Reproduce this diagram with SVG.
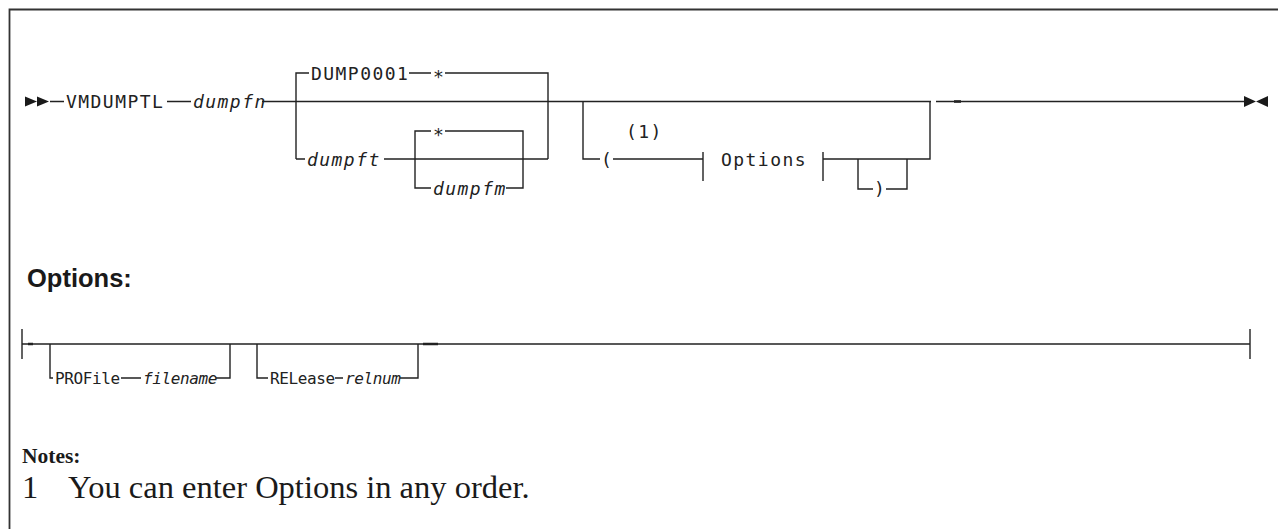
<svg xmlns="http://www.w3.org/2000/svg" width="1278" height="529" viewBox="0 0 1278 529">
<style>
.ln{fill:none;stroke:#222;stroke-width:1.4}
.thk{fill:none;stroke:#222;stroke-width:2.6}
.fr{fill:none;stroke:#333;stroke-width:1.8}
.m{font-family:"DejaVu Sans Mono","Liberation Mono",monospace;font-size:18px;letter-spacing:1.45px;fill:#222}
.s{font-family:"DejaVu Sans Mono","Liberation Mono",monospace;font-size:16px;letter-spacing:-0.4px;fill:#222}
.i{font-style:italic}
.ah{fill:#1a1a1a}
.h{font-family:"Liberation Sans",Arial,sans-serif;font-weight:bold;font-size:25.5px;fill:#1a1a1a}
.n{font-family:"Liberation Serif","Times New Roman",serif;fill:#1a1a1a}
</style>
<rect width="1278" height="529" fill="#fff"/>
<path class="fr" d="M9.5,529 V9.5 H1278"/>

<g id="connectors">
  <path class="ln" d="M50,101.5 H64 M167,101.5 H191 M262,101.5 H931 M936,101.5 H1245"/>
  <path class="thk" d="M954,101.5 H961"/>
  <path class="ln" d="M296,159 V73 H309 M409,73 H431 M445,73 H548 V159"/>
  <path class="ln" d="M296,159 H305 M384,159 H548"/>
  <path class="ln" d="M415,159 V131 H431 M445,131 H523 V188 H506 M431,188 H415 V159"/>
  <path class="ln" d="M583,101.5 V159 H600 M613,159 H703 M703,152 V181 M823,152 V181 M823,159 H930 V101.5"/>
  <path class="ln" d="M858,159 V189 H873 M886,189 H907 V159"/>
  <path class="ln" d="M22,329 V359 M22,344 H1250 M1250,329 V359"/>
  <path class="thk" d="M28,344 H33 M423,344 H438"/>
  <path class="ln" d="M50,344 V378 H53 M121,378 H141 M216,378 H230 V344"/>
  <path class="ln" d="M257,344 V378 H268 M335,378 H343 M400,378 H418 V344"/>
</g>

<g id="start"><path class="ah" d="M25,96.5 L25,106.5 L37,101.5 Z M37,96.5 L37,106.5 L49,101.5 Z"/></g>
<g id="end"><path class="ah" d="M1244,96 L1244,107 L1256,101.5 Z M1268,96 L1268,107 L1256,101.5 Z"/></g>

<g id="vmdumptl"><text class="m" x="66" y="108">VMDUMPTL</text></g>
<g id="dumpfn"><text class="m i" x="193" y="108">dumpfn</text></g>
<g id="dump0001"><text class="m" x="311" y="79.5">DUMP0001</text></g>
<g id="star1"><text class="m" x="433" y="83">*</text></g>
<g id="dumpft"><text class="m i" x="307" y="165.5">dumpft</text></g>
<g id="star2"><text class="m" x="433" y="141">*</text></g>
<g id="dumpfm"><text class="m i" x="433" y="194.5">dumpfm</text></g>
<g id="lparen"><text class="m" x="601" y="165.5">(</text></g>
<g id="note1"><text class="m" x="626" y="138">(1)</text></g>
<g id="options-ref"><text class="m" x="721" y="166">Options</text></g>
<g id="rparen"><text class="m" x="874" y="195">)</text></g>

<g id="options-heading"><text class="h" x="27" y="287">Options:</text></g>
<g id="profile"><text class="s" x="55" y="384">PROFile</text><text class="s i" x="143" y="384">filename</text></g>
<g id="release"><text class="s" x="270" y="384">RELease</text><text class="s i" x="345" y="384">relnum</text></g>

<g id="notes">
  <text class="n" x="22" y="463" font-size="21.5" font-weight="bold">Notes:</text>
  <text class="n" x="22" y="498" font-size="32.5">1</text>
  <text class="n" x="68" y="498" font-size="32.5">You can enter Options in any order.</text>
</g>
</svg>
